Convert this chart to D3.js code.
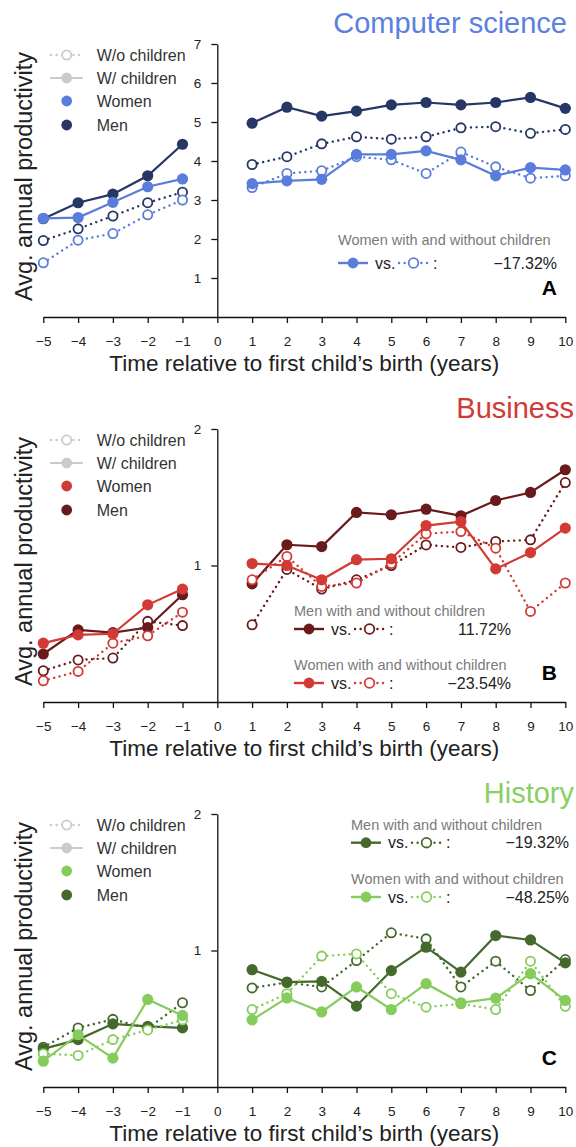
<!DOCTYPE html>
<html>
<head>
<meta charset="utf-8">
<script src="https://cdn.jsdelivr.net/npm/d3@7"></script>
<style>
body { margin: 0; background: #fff; }
svg { display: block; font-family: "Liberation Sans", Arial, Helvetica, sans-serif; }
</style>
</head>
<body>
<svg id="chart" width="576" height="1147"></svg>
<script>
// years relative to first child's birth (no point at 0)
let years = [-5, -4, -3, -2, -1, 1, 2, 3, 4, 5, 6, 7, 8, 9, 10]
let xTicks = [-5, -4, -3, -2, -1, 0, 1, 2, 3, 4, 5, 6, 7, 8, 9, 10]

// Computer science
let csMenWith      = [2.52, 2.93, 3.15, 3.62, 4.43, 4.97, 5.38, 5.15, 5.28, 5.44, 5.50, 5.44, 5.50, 5.63, 5.35]
let csMenWithout   = [1.96, 2.26, 2.59, 2.93, 3.20, 3.91, 4.11, 4.44, 4.62, 4.56, 4.62, 4.85, 4.88, 4.71, 4.81]
let csWomenWith    = [2.53, 2.55, 2.94, 3.34, 3.54, 3.42, 3.49, 3.53, 4.17, 4.17, 4.26, 4.03, 3.62, 3.83, 3.77]
let csWomenWithout = [1.39, 1.97, 2.14, 2.62, 3.00, 3.32, 3.68, 3.75, 4.11, 4.03, 3.68, 4.23, 3.85, 3.56, 3.62]

// Business
let buMenWith      = [0.638, 0.721, 0.711, 0.730, 0.862, 0.911, 1.111, 1.101, 1.309, 1.294, 1.331, 1.287, 1.391, 1.449, 1.626]
let buMenWithout   = [0.586, 0.619, 0.625, 0.753, 0.737, 0.740, 0.980, 0.887, 0.930, 1.000, 1.110, 1.096, 1.130, 1.139, 1.524]
let buWomenWith    = [0.674, 0.703, 0.707, 0.819, 0.887, 1.010, 1.000, 0.930, 1.030, 1.035, 1.225, 1.250, 0.983, 1.068, 1.209]
let buWomenWithout = [0.557, 0.584, 0.674, 0.700, 0.789, 0.930, 1.047, 0.899, 0.915, 1.010, 1.175, 1.188, 1.092, 0.792, 0.915]

// History
let hiMenWith      = [0.607, 0.636, 0.689, 0.680, 0.675, 0.907, 0.852, 0.855, 0.754, 0.903, 1.017, 0.896, 1.079, 1.055, 0.939]
let hiMenWithout   = [0.612, 0.675, 0.705, 0.673, 0.767, 0.827, 0.850, 0.831, 0.950, 1.094, 1.061, 0.831, 0.947, 0.816, 0.955]
let hiWomenWith    = [0.570, 0.652, 0.579, 0.780, 0.719, 0.703, 0.786, 0.732, 0.831, 0.741, 0.845, 0.767, 0.785, 0.889, 0.776]
let hiWomenWithout = [0.592, 0.587, 0.636, 0.668, 0.703, 0.741, 0.803, 0.972, 0.983, 0.803, 0.750, 0.763, 0.741, 0.947, 0.753]

let legendLabels = ['W/o children', 'W/ children', 'Women', 'Men']

let panels = [
    {
        title: 'Computer science', letter: 'A', top: 44, titleX: 567,
        women: '#5a7ddc', men: '#263766', titleColor: '#5b80e0',
        scale: 'linear', domain: [0, 7], yTicks: [1, 2, 3, 4, 5, 6, 7],
        menWith: csMenWith, menWithout: csMenWithout, womenWith: csWomenWith, womenWithout: csWomenWithout,
        notes: [
            {label: 'Women with and without children', who: 'women', pct: '\u221217.32%', x: 338, ty: 201, ry: 219, px: 557}
        ]
    },
    {
        title: 'Business', letter: 'B', top: 429, titleX: 574,
        women: '#d23a35', men: '#6a1a1b', titleColor: '#d23a35',
        scale: 'log', domain: [0.5, 2], yTicks: [1, 2],
        menWith: buMenWith, menWithout: buMenWithout, womenWith: buWomenWith, womenWithout: buWomenWithout,
        notes: [
            {label: 'Men with and without children', who: 'men', pct: '11.72%', x: 294, ty: 187, ry: 200, px: 511},
            {label: 'Women with and without children', who: 'women', pct: '\u221223.54%', x: 294, ty: 241, ry: 254, px: 511}
        ]
    },
    {
        title: 'History', letter: 'C', top: 814, titleX: 574,
        women: '#86cc5d', men: '#45692c', titleColor: '#88d062',
        scale: 'log', domain: [0.5, 2], yTicks: [1, 2],
        menWith: hiMenWith, menWithout: hiMenWithout, womenWith: hiWomenWith, womenWithout: hiWomenWithout,
        notes: [
            {label: 'Men with and without children', who: 'men', pct: '\u221219.32%', x: 351, ty: 16, ry: 28.7, px: 569},
            {label: 'Women with and without children', who: 'women', pct: '\u221248.25%', x: 351, ty: 70, ry: 83, px: 569}
        ]
    }
]

let plotH = 273
let gray = '#cbcbcb'
let dotted = '0.1 5.5'

let svg = d3.select('#chart')
let x = d3.scaleLinear().domain([-5, 10]).range([43.3, 565.3])

let drawMarker = (g, cx, cy, color, open, r) => {
    g.append('circle')
     .attr('cx', cx).attr('cy', cy).attr('r', r)
     .attr('fill', open ? '#fff' : color)
     .attr('stroke', open ? color : 'none')
     .attr('stroke-width', 1.8)
}

let drawSeries = (g, y, values, color, open) => {
    let pts = years.map((yr, i) => ({yr: yr, v: values[i]}))
    let line = d3.line().x(p => x(p.yr)).y(p => y(p.v))
    let segs = [pts.filter(p => p.yr < 0), pts.filter(p => p.yr > 0)]
    segs.forEach(seg => {
        g.append('path')
         .attr('d', line(seg))
         .attr('fill', 'none')
         .attr('stroke', color)
         .attr('stroke-width', open ? 2.4 : 2.2)
         .attr('stroke-linecap', 'round')
         .attr('stroke-dasharray', open ? dotted : null)
    })
    pts.forEach(p => drawMarker(g, x(p.yr), y(p.v), color, open, open ? 4.6 : 5.6))
}

let styleAxis = (a) => {
    a.select('.domain').attr('stroke', '#111').attr('stroke-width', 1.3)
    a.selectAll('.tick line').attr('stroke', '#111').attr('stroke-width', 1.3)
    a.selectAll('.tick text')
     .attr('font-size', 13.5)
     .attr('font-family', '"Liberation Sans", Arial, sans-serif')
     .attr('fill', '#222')
}

panels.forEach(p => {
    let g = svg.append('g')
    let bottom = p.top + plotH
    let y = (p.scale === 'log' ? d3.scaleLog() : d3.scaleLinear())
        .domain(p.domain).range([bottom, p.top])

    // axes
    let xa = g.append('g')
        .attr('transform', 'translate(0,' + bottom + ')')
        .call(d3.axisBottom(x).tickValues(xTicks).tickFormat(d3.format('d'))
            .tickSize(6).tickSizeOuter(0).tickPadding(13))
    styleAxis(xa)

    let ya = g.append('g')
        .attr('transform', 'translate(' + x(0) + ',0)')
        .call(d3.axisLeft(y).tickValues(p.yTicks).tickFormat(d3.format('d'))
            .tickSize(6).tickSizeOuter(0).tickPadding(10))
    styleAxis(ya)

    g.append('text')
     .attr('x', (x.range()[0] + x.range()[1]) / 2)
     .attr('y', bottom + 53.5)
     .attr('text-anchor', 'middle')
     .attr('font-size', 22.5)
     .attr('fill', '#222')
     .text('Time relative to first child\u2019s birth (years)')

    g.append('text')
     .attr('transform', 'translate(32,' + (p.top + plotH / 2 - 4) + ') rotate(-90)')
     .attr('text-anchor', 'middle')
     .attr('font-size', 23.5)
     .attr('fill', '#222')
     .text('Avg. annual productivity')

    // title + letter
    g.append('text')
     .attr('x', p.titleX).attr('y', p.top - 10.7)
     .attr('text-anchor', 'end')
     .attr('font-size', 29)
     .attr('fill', p.titleColor)
     .text(p.title)

    g.append('text')
     .attr('x', 557).attr('y', p.top + 251)
     .attr('text-anchor', 'end')
     .attr('font-size', 21)
     .attr('font-weight', 'bold')
     .attr('fill', '#000')
     .text(p.letter)

    // data
    drawSeries(g, y, p.menWithout, p.men, true)
    drawSeries(g, y, p.menWith, p.men, false)
    drawSeries(g, y, p.womenWithout, p.women, true)
    drawSeries(g, y, p.womenWith, p.women, false)

    // legend
    let rows = [11, 34, 57, 81]
    let leg = g.append('g')
    legendLabels.forEach((lab, i) => {
        let cy = p.top + rows[i]
        if (i < 2) {
            leg.append('line')
               .attr('x1', 51).attr('x2', 82).attr('y1', cy).attr('y2', cy)
               .attr('stroke', gray).attr('stroke-width', i === 0 ? 2.4 : 2.2)
               .attr('stroke-linecap', 'round')
               .attr('stroke-dasharray', i === 0 ? dotted : null)
        }
        let col = i < 2 ? gray : (i === 2 ? p.women : p.men)
        drawMarker(leg, 66.7, cy, col, i === 0, i === 0 ? 4.6 : 5.4)
        leg.append('text')
           .attr('x', 96.7).attr('y', cy + 6)
           .attr('font-size', 16)
           .attr('fill', '#333')
           .text(lab)
    })

    // annotations
    p.notes.forEach(n => {
        let col = p[n.who]
        let cy = p.top + n.ry
        g.append('text')
         .attr('x', n.x).attr('y', p.top + n.ty)
         .attr('font-size', 14.5)
         .attr('fill', '#7a7a7a')
         .text(n.label)
        g.append('line')
         .attr('x1', n.x).attr('x2', n.x + 30).attr('y1', cy).attr('y2', cy)
         .attr('stroke', col).attr('stroke-width', 2.4)
        drawMarker(g, n.x + 15, cy, col, false, 5.4)
        g.append('text')
         .attr('x', n.x + 37).attr('y', cy + 5.5)
         .attr('font-size', 16).attr('fill', '#222')
         .text('vs.')
        g.append('line')
         .attr('x1', n.x + 61).attr('x2', n.x + 91).attr('y1', cy).attr('y2', cy)
         .attr('stroke', col).attr('stroke-width', 2.4)
         .attr('stroke-linecap', 'round')
         .attr('stroke-dasharray', dotted)
        drawMarker(g, n.x + 75.5, cy, col, true, 4.8)
        g.append('text')
         .attr('x', n.x + 95).attr('y', cy + 5.5)
         .attr('font-size', 16).attr('fill', '#222')
         .text(':')
        g.append('text')
         .attr('x', n.px).attr('y', cy + 5.5)
         .attr('text-anchor', 'end')
         .attr('font-size', 16).attr('fill', '#222')
         .text(n.pct)
    })
})
</script>
</body>
</html>
